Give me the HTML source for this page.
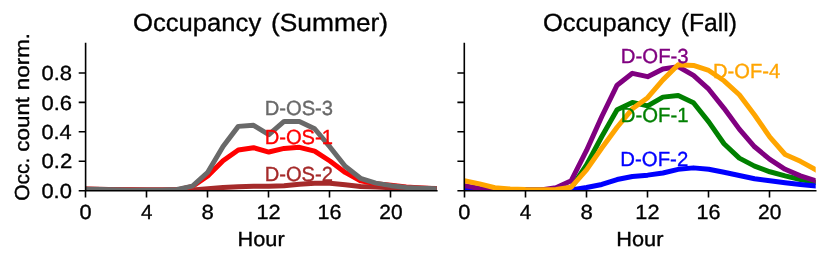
<!DOCTYPE html>
<html><head><meta charset="utf-8"><title>Occupancy</title>
<style>html,body{margin:0;padding:0;background:#fff;}body{width:829px;height:264px;overflow:hidden;font-family:"Liberation Sans",sans-serif;}svg{display:block}svg text{text-rendering:geometricPrecision}</style>
</head><body>
<svg width="829" height="264" viewBox="0 0 829 264" font-family="'Liberation Sans', sans-serif">
<rect width="829" height="264" fill="#fff"/>
<defs><clipPath id="cl"><rect x="85.6" y="43.50" width="351.20" height="147.20"/></clipPath><clipPath id="cr"><rect x="464.3" y="43.50" width="351.40" height="147.20"/></clipPath></defs>
<g clip-path="url(#cl)">
<polyline points="85.60,188.95 100.87,189.25 116.14,189.68 131.41,189.97 146.68,190.12 161.95,190.12 177.22,190.12 192.49,189.97 207.76,188.84 223.03,187.55 238.30,186.73 253.57,186.34 268.83,186.26 284.10,185.73 299.37,184.29 314.64,183.32 329.91,183.32 345.18,184.73 360.45,186.46 375.72,186.93 390.99,187.65 406.26,187.94 421.53,188.24 436.80,188.38" fill="none" stroke="#a52a2a" stroke-width="5.0" stroke-linejoin="round" stroke-linecap="square"/>
<polyline points="85.60,189.35 100.87,189.55 116.14,189.68 131.41,189.83 146.68,189.97 161.95,189.97 177.22,189.83 192.49,186.49 207.76,176.05 223.03,160.73 238.30,150.04 253.57,147.71 268.83,152.04 284.10,148.41 299.37,147.32 314.64,151.20 329.91,161.00 345.18,172.38 360.45,180.84 375.72,183.62 390.99,185.35 406.26,187.10 421.53,188.03 436.80,188.85" fill="none" stroke="#ff0000" stroke-width="5.0" stroke-linejoin="round" stroke-linecap="square"/>
<polyline points="85.60,189.25 100.87,189.54 116.14,189.83 131.41,189.97 146.68,189.97 161.95,189.97 177.22,189.54 192.49,186.17 207.76,172.27 223.03,146.48 238.30,126.37 253.57,125.27 268.83,134.66 284.10,121.42 299.37,121.42 314.64,128.76 329.91,146.95 345.18,166.30 360.45,178.28 375.72,183.12 390.99,185.65 406.26,187.40 421.53,188.23 436.80,188.85" fill="none" stroke="#696969" stroke-width="5.0" stroke-linejoin="round" stroke-linecap="square"/>
</g>
<g clip-path="url(#cr)">
<polyline points="464.30,189.25 479.58,189.83 494.86,189.97 510.13,189.97 525.41,189.97 540.69,189.97 555.97,189.54 571.25,187.79 586.53,164.96 601.80,136.50 617.08,109.70 632.36,102.43 647.64,105.86 662.92,97.13 678.20,95.59 693.47,102.73 708.75,121.85 724.03,143.78 739.31,158.12 754.59,166.12 769.87,171.79 785.14,175.87 800.42,179.51 815.70,182.42" fill="none" stroke="#008000" stroke-width="5.0" stroke-linejoin="round" stroke-linecap="square"/>
<polyline points="464.30,189.54 479.58,189.97 494.86,190.12 510.13,190.12 525.41,190.12 540.69,190.12 555.97,190.12 571.25,189.97 586.53,187.51 601.80,184.45 617.08,179.51 632.36,176.45 647.64,175.14 662.92,172.96 678.20,169.32 693.47,167.87 708.75,169.32 724.03,172.23 739.31,175.43 754.59,178.78 769.87,180.67 785.14,182.71 800.42,184.45 815.70,186.05" fill="none" stroke="#0000ff" stroke-width="5.0" stroke-linejoin="round" stroke-linecap="square"/>
<polyline points="464.30,185.62 479.58,188.45 494.86,189.83 510.13,189.97 525.41,189.97 540.69,189.97 555.97,187.72 571.25,180.67 586.53,150.41 601.80,116.50 617.08,85.16 632.36,73.34 647.64,76.68 662.92,69.04 678.20,66.60 693.47,75.45 708.75,89.23 724.03,108.32 739.31,129.13 754.59,146.77 769.87,159.45 785.14,169.32 800.42,175.87 815.70,180.67" fill="none" stroke="#800080" stroke-width="5.0" stroke-linejoin="round" stroke-linecap="square"/>
<polyline points="464.30,180.67 479.58,183.87 494.86,187.74 510.13,188.91 525.41,189.59 540.69,189.74 555.97,189.44 571.25,187.18 586.53,169.90 601.80,147.97 617.08,127.23 632.36,108.84 647.64,97.71 662.92,79.88 678.20,64.71 693.47,65.47 708.75,70.47 724.03,80.79 739.31,94.73 754.59,114.97 769.87,137.17 785.14,154.52 800.42,161.32 815.70,169.76" fill="none" stroke="#ffa500" stroke-width="5.0" stroke-linejoin="round" stroke-linecap="square"/>
</g>
<path d="M85.6 42.70V191.50M84.80 190.7H437.60M85.50 190.7v6.9M146.50 190.7v6.9M207.50 190.7v6.9M268.50 190.7v6.9M329.50 190.7v6.9M390.50 190.7v6.9M85.6 190.70h-6.9M85.6 161.26h-6.9M85.6 131.82h-6.9M85.6 102.38h-6.9M85.6 72.94h-6.9" stroke="#000" stroke-width="1.6" fill="none"/>
<path d="M464.3 42.70V191.50M463.50 190.7H816.50M464.50 190.7v6.9M525.50 190.7v6.9M586.50 190.7v6.9M647.50 190.7v6.9M708.50 190.7v6.9M769.50 190.7v6.9M464.3 190.70h-6.9M464.3 161.26h-6.9M464.3 131.82h-6.9M464.3 102.38h-6.9M464.3 72.94h-6.9" stroke="#000" stroke-width="1.6" fill="none"/>
<g opacity="0.999">
<text transform="translate(133.08,31.00) scale(1.0291,1)" font-size="24.9" fill="#000" stroke="#000" stroke-width="0.35">Occupancy</text>
<text transform="translate(270.95,31.00) scale(1.0589,1)" font-size="24.9" fill="#000" stroke="#000" stroke-width="0.35">(Summer)</text>
<text transform="translate(542.88,31.00) scale(1.0274,1)" font-size="24.9" fill="#000" stroke="#000" stroke-width="0.35">Occupancy</text>
<text transform="translate(680.76,31.00) scale(0.9926,1)" font-size="24.9" fill="#000" stroke="#000" stroke-width="0.35">(Fall)</text>
<text transform="translate(41.42,80.14) scale(1.0824,1)" font-size="20.35" fill="#000" stroke="#000" stroke-width="0.35">0.8</text>
<text transform="translate(41.42,109.58) scale(1.0824,1)" font-size="20.35" fill="#000" stroke="#000" stroke-width="0.35">0.6</text>
<text transform="translate(41.43,139.02) scale(1.0701,1)" font-size="20.35" fill="#000" stroke="#000" stroke-width="0.35">0.4</text>
<text transform="translate(41.41,168.46) scale(1.0886,1)" font-size="20.35" fill="#000" stroke="#000" stroke-width="0.35">0.2</text>
<text transform="translate(41.42,197.90) scale(1.0783,1)" font-size="20.35" fill="#000" stroke="#000" stroke-width="0.35">0.0</text>
<text transform="translate(29.00,199.70) rotate(-90) scale(1.0276,1) translate(-0.967,0)" font-size="20.35" fill="#000" stroke="#000" stroke-width="0.35">Occ.</text>
<text transform="translate(29.00,150.70) rotate(-90) scale(1.0998,1) translate(-0.865,0)" font-size="20.35" fill="#000" stroke="#000" stroke-width="0.35">count</text>
<text transform="translate(29.00,88.70) rotate(-90) scale(1.1007,1) translate(-1.374,0)" font-size="20.35" fill="#000" stroke="#000" stroke-width="0.35">norm.</text>
<text transform="translate(237.51,245.90) scale(1.0683,1)" font-size="20.35" fill="#000" stroke="#000" stroke-width="0.35">Hour</text>
<text transform="translate(616.31,245.90) scale(1.0683,1)" font-size="20.35" fill="#000" stroke="#000" stroke-width="0.35">Hour</text>
<text transform="translate(264.63,114.80) scale(0.9926,1)" font-size="20.35" fill="#696969" stroke="#696969" stroke-width="0.35">D-OS-3</text>
<text transform="translate(264.64,144.20) scale(0.9911,1)" font-size="20.35" fill="#ff0000" stroke="#ff0000" stroke-width="0.35">D-OS-1</text>
<text transform="translate(264.64,181.00) scale(0.9903,1)" font-size="20.35" fill="#a52a2a" stroke="#a52a2a" stroke-width="0.35">D-OS-2</text>
<text transform="translate(620.82,62.70) scale(1.0004,1)" font-size="20.35" fill="#800080" stroke="#800080" stroke-width="0.35">D-OF-3</text>
<text transform="translate(713.04,78.00) scale(0.9897,1)" font-size="20.35" fill="#ffa500" stroke="#ffa500" stroke-width="0.35">D-OF-4</text>
<text transform="translate(620.83,122.20) scale(0.9974,1)" font-size="20.35" fill="#008000" stroke="#008000" stroke-width="0.35">D-OF-1</text>
<text transform="translate(620.32,166.00) scale(1.0012,1)" font-size="20.35" fill="#0000ff" stroke="#0000ff" stroke-width="0.35">D-OF-2</text>
<text transform="translate(79.53,218.90) scale(1.0703,1)" font-size="20.35" fill="#000" stroke="#000" stroke-width="0.35">0</text>
<text transform="translate(141.01,218.90) scale(1.0120,1)" font-size="20.35" fill="#000" stroke="#000" stroke-width="0.35">4</text>
<text transform="translate(201.62,218.90) scale(1.0874,1)" font-size="20.35" fill="#000" stroke="#000" stroke-width="0.35">8</text>
<text transform="translate(256.51,218.90) scale(1.0676,1)" font-size="20.35" fill="#000" stroke="#000" stroke-width="0.35">12</text>
<text transform="translate(317.60,218.90) scale(1.0595,1)" font-size="20.35" fill="#000" stroke="#000" stroke-width="0.35">16</text>
<text transform="translate(379.24,218.90) scale(1.0285,1)" font-size="20.35" fill="#000" stroke="#000" stroke-width="0.35">20</text>
<text transform="translate(458.23,218.90) scale(1.0703,1)" font-size="20.35" fill="#000" stroke="#000" stroke-width="0.35">0</text>
<text transform="translate(519.75,218.90) scale(1.0120,1)" font-size="20.35" fill="#000" stroke="#000" stroke-width="0.35">4</text>
<text transform="translate(580.39,218.90) scale(1.0874,1)" font-size="20.35" fill="#000" stroke="#000" stroke-width="0.35">8</text>
<text transform="translate(635.31,218.90) scale(1.0676,1)" font-size="20.35" fill="#000" stroke="#000" stroke-width="0.35">12</text>
<text transform="translate(696.44,218.90) scale(1.0595,1)" font-size="20.35" fill="#000" stroke="#000" stroke-width="0.35">16</text>
<text transform="translate(758.12,218.90) scale(1.0285,1)" font-size="20.35" fill="#000" stroke="#000" stroke-width="0.35">20</text>
</g>
</svg>
</body></html>
